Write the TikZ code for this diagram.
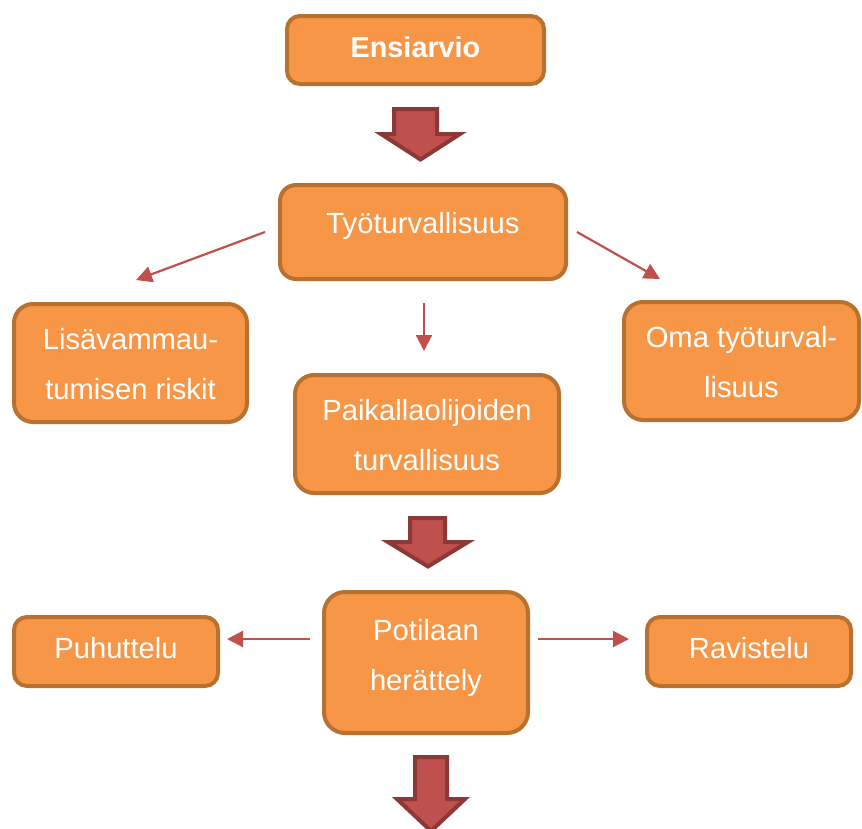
\documentclass[tikz,border=0pt]{standalone}
\usepackage{fontspec}
\setmainfont{Liberation Sans}
\usetikzlibrary{arrows.meta}
\definecolor{boxfill}{HTML}{F79646}
\definecolor{boxline}{HTML}{B8712F}
\definecolor{arrfill}{HTML}{C0504D}
\definecolor{arrline}{HTML}{8C3836}
\begin{document}
\begin{tikzpicture}[x=1pt,y=-1pt,
  box/.style={draw=boxline,fill=boxfill,line width=4pt,inner sep=0pt,rectangle},
  lbl/.style={anchor=base,inner sep=0pt,text=white,font=\fontsize{29.2}{50}\selectfont},
  thin/.style={draw=arrfill,line width=2.2pt,-{Triangle[length=16pt,width=16pt]}},
  bigarrow/.style={draw=arrline,fill=arrfill,line width=4pt,line join=miter}]
\clip (0,0) rectangle (862,828);
% boxes
\node[box,rounded corners=13pt,minimum width=257pt,minimum height=68pt] (ens) at (415.5,50) {};
\node[box,rounded corners=16pt,minimum width=286pt,minimum height=94pt] (tyo) at (423,232) {};
\node[box,rounded corners=19pt,minimum width=233pt,minimum height=118pt] (lisa) at (130.5,363) {};
\node[box,rounded corners=19pt,minimum width=264pt,minimum height=118pt] (paik) at (427,434) {};
\node[box,rounded corners=19pt,minimum width=235pt,minimum height=118pt] (oma) at (741.5,361) {};
\node[box,rounded corners=21pt,minimum width=204pt,minimum height=141pt] (pot) at (426,662.5) {};
\node[box,rounded corners=13pt,minimum width=204pt,minimum height=69pt] (puh) at (116,651.5) {};
\node[box,rounded corners=13pt,minimum width=204pt,minimum height=69pt] (rav) at (749,651.5) {};
% texts
\node[lbl,font=\fontsize{28.8}{50}\selectfont\bfseries] (tens) at (415.5,57) {Ensiarvio};
\node[lbl] (ttyo) at (423,233) {Työturvallisuus};
\node[lbl] (tlisa1) at (130.5,349) {Lisävammau-};
\node[lbl] (tlisa2) at (130.5,399.5) {tumisen riskit};
\node[lbl] (tpaik1) at (427,420) {Paikallaolijoiden};
\node[lbl] (tpaik2) at (427,470) {turvallisuus};
\node[lbl] (toma1) at (741.5,347) {Oma työturval-};
\node[lbl] (toma2) at (741.5,397) {lisuus};
\node[lbl] (tpot1) at (426,640) {Potilaan};
\node[lbl] (tpot2) at (426,690) {herättely};
\node[lbl] (tpuh) at (116,658) {Puhuttelu};
\node[lbl] (trav) at (749,658) {Ravistelu};
% thin arrows
\coordinate (a1s) at (265,232); \coordinate (a1e) at (136,280);
\coordinate (a2s) at (424,303); \coordinate (a2e) at (424,351);
\coordinate (a3s) at (577,232); \coordinate (a3e) at (660,279);
\coordinate (a4s) at (310,639); \coordinate (a4e) at (227,639);
\coordinate (a5s) at (538,639); \coordinate (a5e) at (629,639);
\draw[thin] (a1s) -- (a1e);
\draw[thin] (a2s) -- (a2e);
\draw[thin] (a3s) -- (a3e);
\draw[thin] (a4s) -- (a4e);
\draw[thin] (a5s) -- (a5e);
% big arrows
\draw[bigarrow] (394,109) -- (437,109) -- (437,134) -- (460,134) -- (420.5,159.5) -- (381,134) -- (394,134) -- cycle;
\draw[bigarrow] (410,518) -- (445,518) -- (445,542) -- (468,542) -- (428,566.5) -- (388,542) -- (410,542) -- cycle;
\draw[bigarrow] (415,757) -- (447,757) -- (447,799) -- (465,799) -- (431,831) -- (397,799) -- (415,799) -- cycle;
\end{tikzpicture}
\end{document}
